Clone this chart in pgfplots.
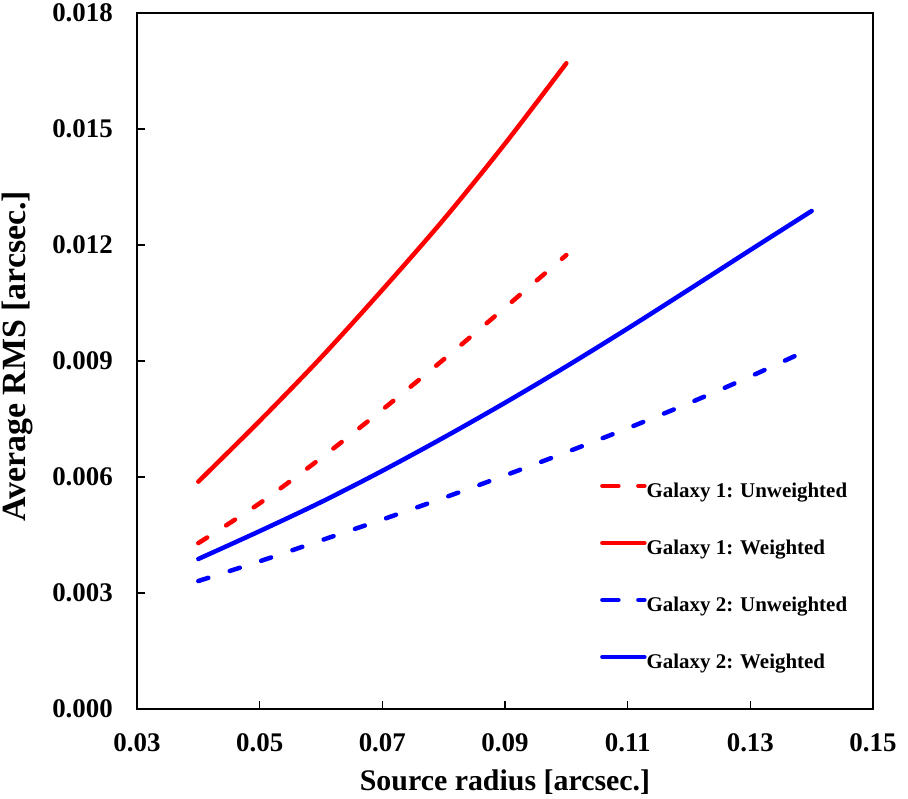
\documentclass[border=0pt]{standalone}
\usepackage{fontspec}
\setmainfont{Liberation Serif}
\usepackage{pgfplots}
\pgfplotsset{compat=1.18}
\pgfplotsset{
  solidlegend/.style={legend image code/.code={\draw[##1] (0bp,6.6bp) -- (42bp,6.6bp);}},
  dashlegend/.style={legend image code/.code={\draw[##1, dash pattern=on 16bp off 20bp] (0bp,6.6bp) -- (42bp,6.6bp);}},
}
\begin{document}
\begin{tikzpicture}
\begin{axis}[
  scale only axis, width=736bp, height=696bp,
  xmin=0.03, xmax=0.15, ymin=0, ymax=18,
  axis line style={line width=1.5bp, black},
  xtick={0.03,0.05,0.07,0.09,0.11,0.13,0.15},
  xticklabels={0.03,0.05,0.07,0.09,0.11,0.13,0.15},
  ytick={0,3,6,9,12,15,18},
  yticklabels={0.000,0.003,0.006,0.009,0.012,0.015,0.018},
  tick align=inside, xtick pos=bottom, ytick pos=left,
  major tick length=8bp,
  tick style={line width=1.2bp, black},
  /pgf/number format/assume math mode=true,
  ticklabel style={font=\fontsize{27}{30}\selectfont\bfseries},
  xticklabel style={inner sep=0pt, anchor=north, yshift=-24bp},
  yticklabel style={inner sep=0pt, anchor=east, xshift=-24bp},
  xlabel={Source radius [arcsec.]},
  ylabel={Average RMS [arcsec.]},
  xlabel style={font=\fontsize{30}{34}\selectfont\bfseries, at={(axis description cs:0.5,0)}, anchor=base, yshift=-81bp},
  ylabel style={font=\fontsize{34}{38}\selectfont\bfseries, at={(axis description cs:-0.152,0.507)}, anchor=base},
  legend style={at={(axis description cs:0.629,0.3257)}, anchor=north west, draw=none, fill=none, inner sep=0pt,
    font=\fontsize{21}{24}\selectfont\bfseries,
    nodes={inner sep=0pt, text height=15bp, text depth=5bp},
    row sep=37bp, column sep=0bp},
  legend cell align=left,
]
\addplot[red, line width=4.5bp, line cap=round, dash pattern=on 10.5bp off 22.5bp, smooth, dashlegend]
  coordinates {(0.04,4.29) (0.05,5.32) (0.06,6.49) (0.07,7.74) (0.08,9.04) (0.09,10.38) (0.10,11.74)};
\addlegendentry{Galaxy 1: Unweighted}
\addplot[red, line width=4.5bp, line cap=round, smooth, solidlegend]
  coordinates {(0.04,5.88) (0.05,7.45) (0.06,9.09) (0.07,10.84) (0.08,12.66) (0.09,14.62) (0.10,16.70)};
\addlegendentry{Galaxy 1: Weighted}
\addplot[blue, line width=4.5bp, line cap=round, dash pattern=on 10.5bp off 22.5bp, smooth, dashlegend]
  coordinates {(0.04,3.31) (0.05,3.82) (0.06,4.36) (0.07,4.90) (0.08,5.46) (0.09,6.04) (0.10,6.64) (0.11,7.26) (0.12,7.91) (0.13,8.60) (0.14,9.33)};
\addlegendentry{Galaxy 2: Unweighted}
\addplot[blue, line width=4.5bp, line cap=round, smooth, solidlegend]
  coordinates {(0.04,3.88) (0.05,4.60) (0.06,5.35) (0.07,6.16) (0.08,7.02) (0.09,7.92) (0.10,8.86) (0.11,9.84) (0.12,10.85) (0.13,11.87) (0.14,12.88)};
\addlegendentry{Galaxy 2: Weighted}
\end{axis}
\pgfresetboundingbox
\path ([shift={(-137bp,-90bp)}]current axis.south west) rectangle ([shift={(35bp,13bp)}]current axis.north east);
\end{tikzpicture}
\end{document}
